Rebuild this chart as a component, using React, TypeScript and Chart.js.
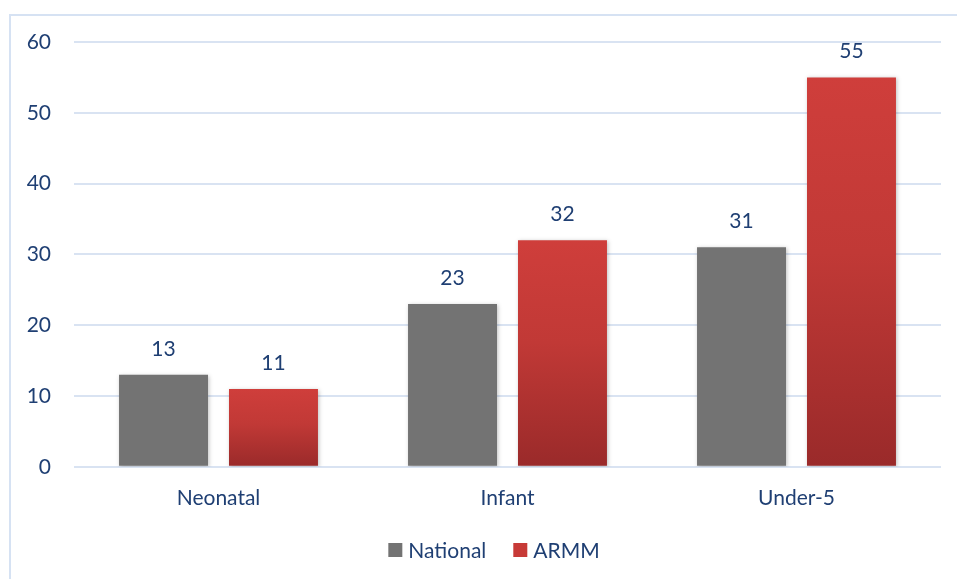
import React, { useEffect, useRef } from "react";
import { Chart, registerables } from "chart.js";

Chart.register(...registerables);

const categories = ["Neonatal", "Infant", "Under-5"];
const nationalValues = [13, 23, 31];
const armmValues = [11, 32, 55];
const seriesNames = ["National", "ARMM"];
const yTicks = [0, 10, 20, 30, 40, 50, 60];

const TEXT = "#1F3F73";
const FONT = "Lato, 'Open Sans', sans-serif";
const FS = 21;
const GREY = "#737373";
const RED = "#C73A37";

function armmFill(ctx: any) {
  const chart = ctx.chart;
  const y = chart.scales && chart.scales.y;
  if (!chart.chartArea || !y || ctx.raw === undefined) return "#C93B38";
  const top = y.getPixelForValue(ctx.raw);
  const bottom = y.getPixelForValue(0);
  if (!isFinite(top) || !isFinite(bottom) || top === bottom) return "#C93B38";
  const g = chart.ctx.createLinearGradient(0, top, 0, bottom);
  g.addColorStop(0, "#CF3E3B");
  g.addColorStop(0.45, "#C13936");
  g.addColorStop(1, "#9A2A2A");
  return g;
}

const valueLabels = {
  id: "valueLabels",
  afterDatasetsDraw(chart: any) {
    const c = chart.ctx;
    c.save();
    c.fillStyle = TEXT;
    c.font = `${FS}px ${FONT}`;
    c.textAlign = "center";
    c.textBaseline = "middle";
    chart.data.datasets.forEach((ds: any, di: number) => {
      const meta = chart.getDatasetMeta(di);
      meta.data.forEach((bar: any, i: number) => {
        c.fillText(String(ds.data[i]), bar.x, bar.y - 26);
      });
    });
    c.restore();
  },
};

const customLegend = {
  id: "customLegend",
  afterDraw(chart: any) {
    const c = chart.ctx;
    c.save();
    c.font = `${FS}px ${FONT}`;
    c.textBaseline = "middle";
    c.textAlign = "left";
    const box = 14, gap = 6, itemGap = 27;
    const colors = [GREY, RED];
    const labels = chart.data.datasets.map((d: any) => d.label);
    const widths = labels.map((t: string) => box + gap + c.measureText(t).width);
    const total = widths.reduce((a: number, b: number) => a + b, 0) + itemGap * (labels.length - 1);
    let x = 494 - total / 2;
    const yc = 550;
    labels.forEach((t: string, i: number) => {
      c.fillStyle = colors[i];
      c.fillRect(x, yc - box / 2, box, box);
      c.fillStyle = TEXT;
      c.fillText(t, x + box + gap, yc + 1);
      x += widths[i] + itemGap;
    });
    c.restore();
  },
};

const barShadow = {
  id: "barShadow",
  beforeDatasetsDraw(chart: any) {
    const c = chart.ctx;
    c.save();
    c.shadowColor = "rgba(0,0,0,0.25)";
    c.shadowBlur = 4;
    c.shadowOffsetX = 1;
    c.shadowOffsetY = 1;
  },
  afterDatasetsDraw(chart: any) {
    chart.ctx.restore();
  },
};

export default function App() {
  const ref = useRef<HTMLCanvasElement | null>(null);
  useEffect(() => {
    if (!ref.current) return;
    const chart = new Chart(ref.current, {
      type: "bar",
      data: {
        labels: categories,
        datasets: [
          {
            label: seriesNames[0],
            data: nationalValues,
            backgroundColor: GREY,
            categoryPercentage: 0.761,
            barPercentage: 0.809,
          },
          {
            label: seriesNames[1],
            data: armmValues,
            backgroundColor: armmFill as any,
            categoryPercentage: 0.761,
            barPercentage: 0.809,
          },
        ],
      },
      options: {
        animation: false,
        responsive: false,
        maintainAspectRatio: false,
        layout: { padding: { left: 0, right: 16, top: 42, bottom: 57 } },
        plugins: {
          tooltip: { enabled: false },
          legend: { display: false },
        },
        scales: {
          x: {
            grid: { display: false },
            border: { display: false },
            ticks: { color: TEXT, font: { family: FONT, size: FS }, padding: 11 },
          },
          y: {
            min: 0,
            max: 60,
            afterBuildTicks: (s: any) => {
              s.ticks = yTicks.map((v) => ({ value: v }));
            },
            afterFit: (s: any) => {
              s.width = 74;
            },
            grid: { color: "#D9E3F2", lineWidth: 2, drawTicks: false },
            border: { display: false },
            ticks: {
              color: TEXT,
              font: { family: FONT, size: FS },
              padding: 23,
            },
          },
        },
      },
      plugins: [barShadow, valueLabels, customLegend],
    });
    return () => chart.destroy();
  }, []);
  return (
    <div style={{ position: "absolute", left: 0, top: 0, width: 957, height: 579, overflow: "hidden", background: "#fff" }}>
      <div
        style={{
          position: "absolute",
          left: 9,
          top: 14,
          width: 1000,
          height: 600,
          borderLeft: "2px solid #D6E2F3",
          borderTop: "2px solid #D6E2F3",
        }}
      />
      <canvas ref={ref} width={957} height={579} style={{ position: "absolute", left: 0, top: 0 }} />
    </div>
  );
}
